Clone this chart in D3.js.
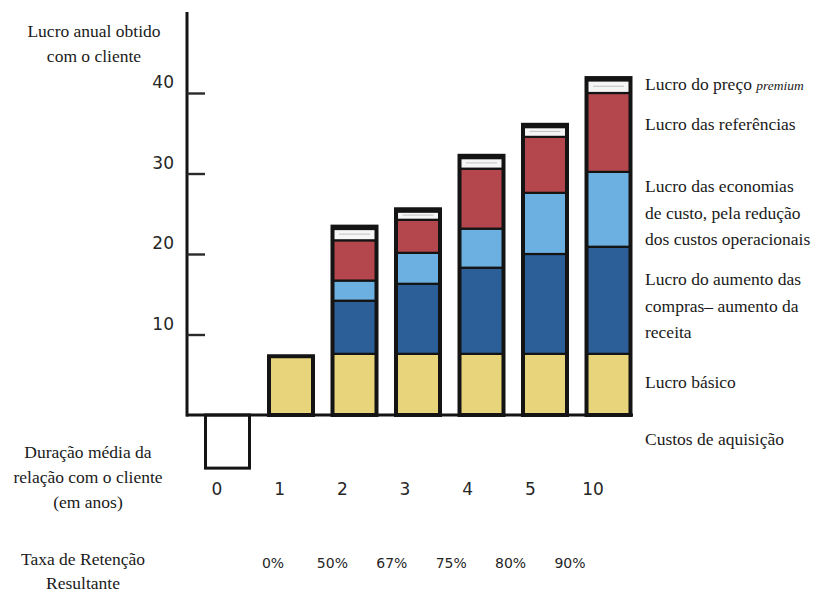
<!DOCTYPE html>
<html>
<head>
<meta charset="utf-8">
<script src="https://cdn.jsdelivr.net/npm/d3@7"></script>
<style>
  html, body { margin: 0; padding: 0; background: #fff; }
  svg { display: block; }
  .srf { font-family: "Liberation Serif", "Times New Roman", serif; }
</style>
</head>
<body>
<svg id="chart" width="816" height="594"></svg>
<script>
// Average customer relationship length (years) and resulting retention rate
const years = ["0", "1", "2", "3", "4", "5", "10"];
const retentionYears = ["1", "2", "3", "4", "5", "10"];
const retention = ["0%", "50%", "67%", "75%", "80%", "90%"];

// Annual profit components per customer, stacked bottom to top
const acquisitionCost = [-6.6, 0, 0, 0, 0, 0, 0];
const basicProfit     = [0, 7.3, 7.6, 7.6, 7.6, 7.6, 7.6];
const revenueGrowth   = [0, 0, 6.6, 8.7, 10.7, 12.4, 13.3];
const costSavings     = [0, 0, 2.5, 3.85, 4.85, 7.6, 9.3];
const referrals       = [0, 0, 5.0, 4.1, 7.45, 6.95, 9.8];
const premiumPrice    = [0, 0, 1.7, 1.3, 1.6, 1.5, 1.85];

const yTicks = [10, 20, 30, 40];

const seriesKeys = ["basico", "compras", "economias", "referencias", "premium"];
const seriesColors = {
  basico: "#e7d47b",
  compras: "#2c5f97",
  economias: "#6cb0e2",
  referencias: "#b4474e",
  premium: "#f6f6f6"
};

const legendLines = [
  { key: "premium", lines: ["Lucro do preço |premium"] },
  { key: "referencias", lines: ["Lucro das referências"] },
  { key: "economias", lines: ["Lucro das economias", "de custo, pela redução", "dos custos operacionais"] },
  { key: "compras", lines: ["Lucro do aumento das", "compras– aumento da", "receita"] },
  { key: "basico", lines: ["Lucro básico"] },
  { key: "aquisicao", lines: ["Custos de aquisição"] }
];

const SANS = "'DejaVu Sans', Verdana, sans-serif";

const table = years.map((yr, i) => ({
  year: yr,
  aquisicao: acquisitionCost[i],
  basico: basicProfit[i],
  compras: revenueGrowth[i],
  economias: costSavings[i],
  referencias: referrals[i],
  premium: premiumPrice[i]
}));

const svg = d3.select("#chart");

const x = d3.scaleBand()
  .domain(years)
  .range([195.75, 640.25])
  .paddingInner(0.26)
  .paddingOuter(0.13);

const y = d3.scaleLinear().domain([0, 40]).range([415, 93]);

const stacked = d3.stack().keys(seriesKeys)(table);
const total = d => d.basico + d.compras + d.economias + d.referencias + d.premium;

const ink = "#141414";

// Stacked segments
const gBars = svg.append("g");
stacked.forEach(layer => {
  gBars.selectAll(null)
    .data(layer.filter(d => d[1] - d[0] > 0))
    .join("rect")
    .attr("x", d => x(d.data.year) + 1.5)
    .attr("width", x.bandwidth() - 3)
    .attr("y", d => y(d[1]))
    .attr("height", d => y(d[0]) - y(d[1]))
    .attr("fill", seriesColors[layer.key])
    .attr("stroke", ink)
    .attr("stroke-width", 2.2);
});

// Thin grey line through the premium band
gBars.selectAll(null)
  .data(table.filter(d => d.premium > 0))
  .join("line")
  .attr("x1", d => x(d.year) + 8)
  .attr("x2", d => x(d.year) + x.bandwidth() - 8)
  .attr("y1", d => y(total(d) - d.premium * 0.55))
  .attr("y2", d => y(total(d) - d.premium * 0.55))
  .attr("stroke", "#c9c9c9")
  .attr("stroke-width", 1.2);

// Heavy outer frame of each positive bar
gBars.selectAll(null)
  .data(table.filter(d => d.basico > 0))
  .join("rect")
  .attr("x", d => x(d.year) + 1.5)
  .attr("width", x.bandwidth() - 3)
  .attr("y", d => y(total(d)))
  .attr("height", d => y(0) - y(total(d)))
  .attr("fill", "none")
  .attr("stroke", ink)
  .attr("stroke-width", 4);

// Extra weight along the top edge
gBars.selectAll(null)
  .data(table.filter(d => d.premium > 0))
  .join("rect")
  .attr("x", d => x(d.year))
  .attr("width", x.bandwidth())
  .attr("y", d => y(total(d)) - 1.5)
  .attr("height", 5)
  .attr("fill", ink);

// Acquisition cost below the baseline
gBars.selectAll(null)
  .data(table.filter(d => d.aquisicao < 0))
  .join("rect")
  .attr("x", d => x(d.year) + 1.5)
  .attr("width", x.bandwidth() - 3)
  .attr("y", y(0))
  .attr("height", d => y(d.aquisicao) - y(0))
  .attr("fill", "#fff")
  .attr("stroke", ink)
  .attr("stroke-width", 3);

// Axes
svg.append("line")
  .attr("x1", 187).attr("x2", 187)
  .attr("y1", 12).attr("y2", y(0) + 1.5)
  .attr("stroke", ink).attr("stroke-width", 3);

svg.append("line")
  .attr("x1", 186).attr("x2", x("10") + x.bandwidth() + 1)
  .attr("y1", y(0)).attr("y2", y(0))
  .attr("stroke", ink).attr("stroke-width", 3);

const tickAxis = d3.axisRight(y).tickValues(yTicks).tickSize(18).tickFormat("");
const gTicks = svg.append("g").attr("transform", "translate(187,0)").call(tickAxis);
gTicks.select(".domain").remove();
gTicks.selectAll(".tick line").attr("stroke", "#2a2a2a").attr("stroke-width", 2.4);

const labelAxis = d3.axisLeft(y).tickValues(yTicks).tickSize(0).tickPadding(13);
const gLabels = svg.append("g").attr("transform", "translate(187,0)").call(labelAxis);
gLabels.select(".domain").remove();
gLabels.attr("font-family", null).attr("font-size", null);
gLabels.selectAll(".tick text")
  .attr("dy", "-0.3em")
  .style("font-family", SANS)
  .style("font-size", "17px")
  .style("fill", "#262626");

// Helper for multi-line serif text
function serifBlock(lines, xPos, yPos, step, anchor) {
  const t = svg.append("text")
    .attr("class", "srf")
    .attr("text-anchor", anchor)
    .attr("font-size", 17.5)
    .attr("fill", "#1a1a1a");
  lines.forEach((line, i) => {
    const parts = line.split("|");
    t.append("tspan").attr("x", xPos).attr("y", yPos + i * step).text(parts[0]);
    if (parts[1]) {
      t.append("tspan").attr("font-style", "italic").attr("font-size", 13.5).text(parts[1]);
    }
  });
  return t;
}

// Y-axis title
serifBlock(["Lucro anual obtido", "com o cliente"], 94, 37, 25, "middle");

// Year labels
const xYears = d3.scalePoint().domain(years).range([217, 593]);
svg.append("g").selectAll("text")
  .data(years)
  .join("text")
  .attr("x", d => xYears(d))
  .attr("y", 495)
  .attr("text-anchor", "middle")
  .style("font-family", SANS)
  .style("font-size", "17px")
  .style("fill", "#262626")
  .text(d => d);

// Retention rate labels
const xRet = d3.scalePoint().domain(retentionYears).range([273, 570]);
svg.append("g").selectAll("text")
  .data(retention)
  .join("text")
  .attr("x", (d, i) => xRet(retentionYears[i]))
  .attr("y", 568)
  .attr("text-anchor", "middle")
  .style("font-family", SANS)
  .style("font-size", "14px")
  .style("fill", "#262626")
  .text(d => d);

// Row captions on the left
serifBlock(["Duração média da", "relação com o cliente", "(em anos)"], 88, 458, 25, "middle");
serifBlock(["Taxa de Retenção", "Resultante"], 83, 565, 24, "middle");

// Series labels on the right
const legendY = { premium: 90, referencias: 130, economias: 192, compras: 285, basico: 388, aquisicao: 445 };
legendLines.forEach(item => {
  serifBlock(item.lines, 645, legendY[item.key], 26.5, "start");
});
</script>
</body>
</html>
